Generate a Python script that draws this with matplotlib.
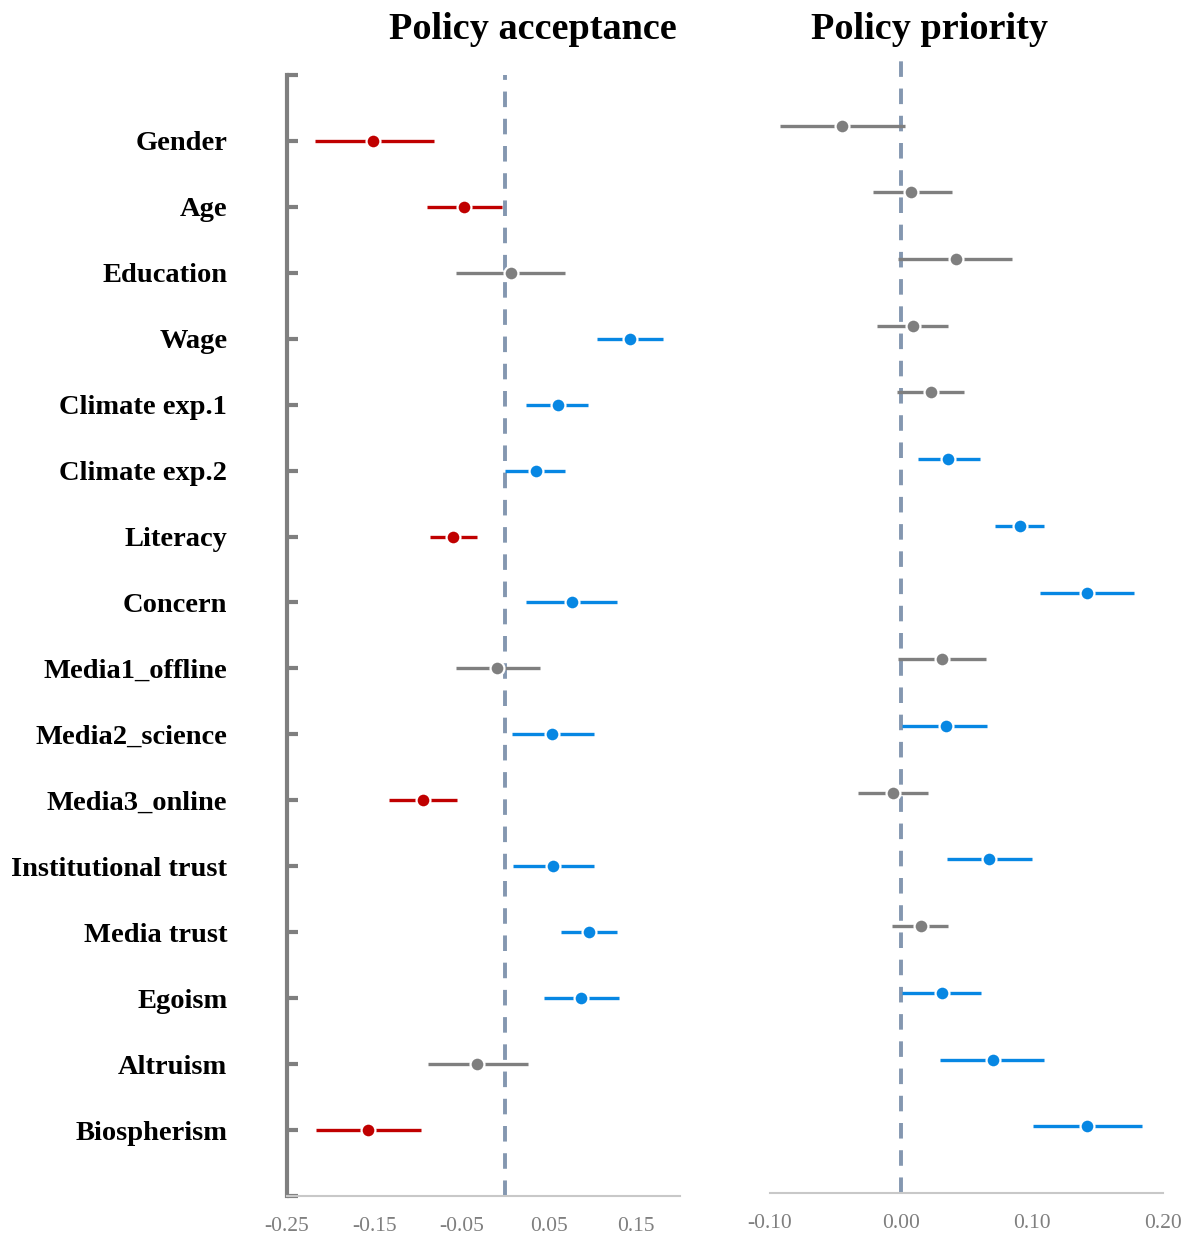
import numpy as np
import matplotlib.pyplot as plt

# variables (top to bottom)
labels = ["Gender", "Age", "Education", "Wage", "Climate exp.1", "Climate exp.2",
          "Literacy", "Concern", "Media1_offline", "Media2_science", "Media3_online",
          "Institutional trust", "Media trust", "Egoism", "Altruism", "Biospherism"]

# Policy acceptance: estimate, lower, upper, significance
acc_est = [-0.151, -0.047, 0.006, 0.143, 0.060, 0.035, -0.060, 0.076, -0.009, 0.054,
           -0.094, 0.055, 0.096, 0.087, -0.032, -0.157]
acc_lo = [-0.218, -0.090, -0.056, 0.105, 0.024, 0.000, -0.086, 0.024, -0.057, 0.008,
          -0.133, 0.009, 0.064, 0.044, -0.088, -0.217]
acc_hi = [-0.082, -0.004, 0.068, 0.181, 0.095, 0.068, -0.032, 0.128, 0.040, 0.101,
          -0.055, 0.102, 0.128, 0.130, 0.026, -0.097]
acc_sig = ["neg", "neg", "ns", "pos", "pos", "pos", "neg", "pos", "ns", "pos",
           "neg", "pos", "pos", "pos", "ns", "neg"]

# Policy priority
pri_est = [-0.045, 0.008, 0.042, 0.009, 0.023, 0.036, 0.091, 0.142, 0.031, 0.034,
           -0.006, 0.067, 0.015, 0.031, 0.070, 0.142]
pri_lo = [-0.092, -0.021, -0.002, -0.018, -0.003, 0.013, 0.072, 0.106, -0.002, 0.001,
          -0.033, 0.035, -0.007, 0.001, 0.030, 0.101]
pri_hi = [0.003, 0.039, 0.085, 0.036, 0.048, 0.060, 0.109, 0.178, 0.065, 0.066,
          0.021, 0.100, 0.036, 0.061, 0.109, 0.184]
pri_sig = ["ns", "ns", "ns", "ns", "ns", "pos", "pos", "pos", "ns", "pos",
           "ns", "pos", "ns", "pos", "pos", "pos"]

acc_ticks = [-0.25, -0.15, -0.05, 0.05, 0.15]
pri_ticks = [-0.10, 0.00, 0.10, 0.20]

colors = {"neg": "#c00000", "ns": "#7f7f7f", "pos": "#0787e3"}
serif = "Liberation Serif"

fig = plt.figure(figsize=(11.89, 12.36), dpi=100)
ax1 = fig.add_axes([0.2414, 0.0324, 0.3305, 0.907])
ax2 = fig.add_axes([0.6476, 0.0348, 0.3305, 0.9175])

ypos = np.arange(len(labels), 0, -1)


def draw(ax, est, lo, hi, sig):
    for y, e, l, h, s in zip(ypos, est, lo, hi, sig):
        c = colors[s]
        ax.plot([l, h], [y, y], color=c, lw=2.4, solid_capstyle="butt", zorder=3)
        ax.plot(e, y, "o", ms=10, mfc=c, mec="white", mew=1.6, zorder=4)
    ax.axvline(0, color="#8497b0", lw=2.8, ls=(0, (4.0, 3.0)), zorder=2)
    ax.set_ylim(0, len(labels) + 1)
    for s in ["top", "right"]:
        ax.spines[s].set_visible(False)
    ax.tick_params(axis="x", length=0, pad=15, labelsize=15.5, labelcolor="#7f7f7f")


draw(ax1, acc_est, acc_lo, acc_hi, acc_sig)
ax1.set_xlim(-0.25, 0.2)
ax1.set_xticks(acc_ticks)
ax1.set_xticklabels(["%.2f" % v for v in acc_ticks], fontfamily=serif)
ax1.set_yticks(list(range(0, len(labels) + 2)))
ax1.set_yticklabels([""] + labels[::-1] + [""], fontfamily=serif,
                    fontweight="bold", fontsize=20.5)
ax1.tick_params(axis="y", direction="in", length=8, width=3, color="#7f7f7f", pad=43)
ax1.spines["left"].set_color("#7f7f7f")
ax1.spines["left"].set_linewidth(3)
ax1.spines["bottom"].set_color("#c8c8c8")
ax1.spines["bottom"].set_linewidth(1.5)

draw(ax2, pri_est, pri_lo, pri_hi, pri_sig)
ax2.set_xlim(-0.1, 0.2)
ax2.set_xticks(pri_ticks)
ax2.set_xticklabels(["%.2f" % v for v in pri_ticks], fontfamily=serif)
ax2.set_yticks([])
ax2.spines["left"].set_visible(False)
ax2.spines["bottom"].set_color("#c8c8c8")
ax2.spines["bottom"].set_linewidth(1.5)

fig.text(0.448, 0.976, "Policy acceptance", ha="center", va="center",
         fontfamily=serif, fontweight="bold", fontsize=27.5)
fig.text(0.782, 0.976, "Policy priority", ha="center", va="center",
         fontfamily=serif, fontweight="bold", fontsize=27.5)

fig.savefig("out.png", dpi=100)
